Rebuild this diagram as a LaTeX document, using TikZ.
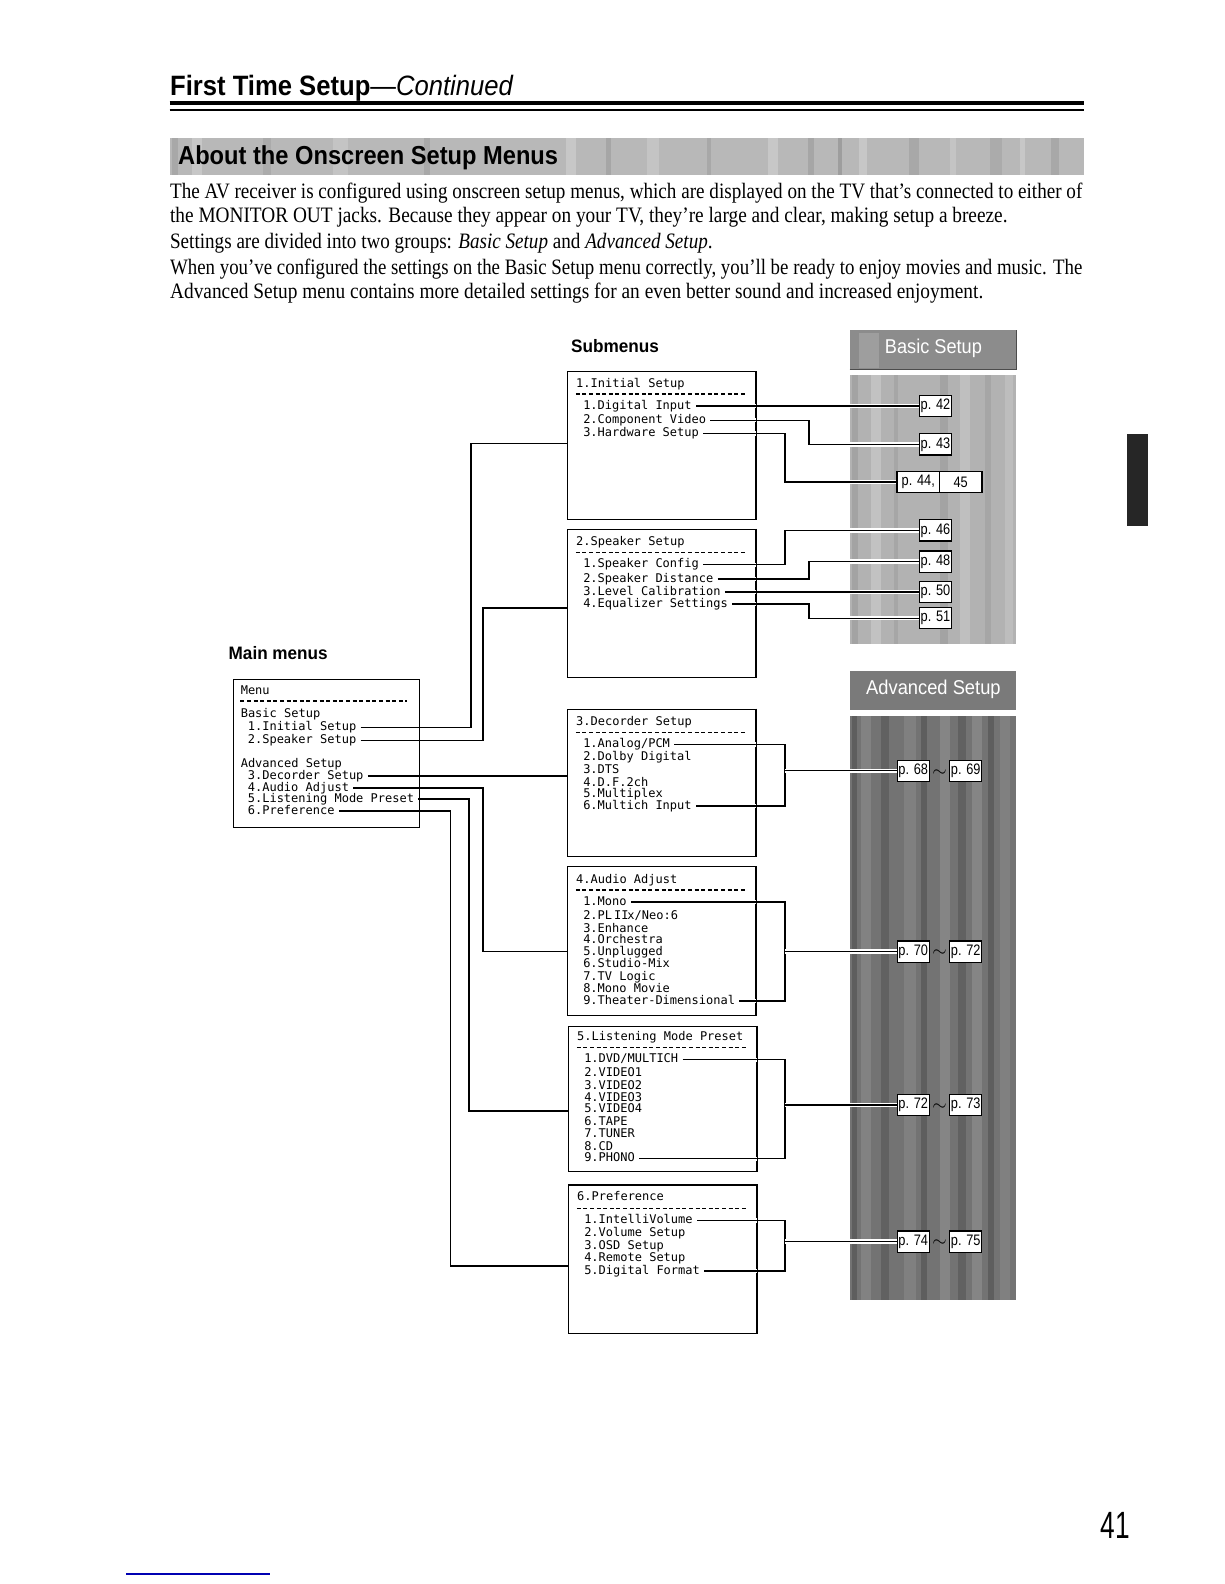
\documentclass[tikz,border=0pt]{standalone}
\usepackage{fontspec}
\setmainfont{Liberation Serif}
\newfontfamily\hsans{Liberation Sans}
\newfontfamily\mono{DejaVu Sans Mono}
\usetikzlibrary{fit,calc}
\newcommand\fitw[2]{\resizebox{#1}{\height}{#2}}
\newcommand\pg[1]{\scalebox{0.84}[1]{#1}}
\begin{document}
\begin{tikzpicture}[x=0.505pt,y=-0.505pt,
  mitem/.style={font=\mono\fontsize{6}{7}\selectfont, anchor=west, inner xsep=2pt, inner ysep=0pt, text height=4.6pt, text depth=1.4pt},
  sbox/.style={draw, line width=0.6pt, inner sep=0pt},
  conn/.style={line width=0.8pt},
  rconn/.style={line width=0.7pt, preaction={draw=white, line width=2.2pt}},
  dline/.style={line width=0.6pt, dash pattern=on 2pt off 1.3pt},
  badge/.style={draw, fill=white, line width=0.6pt, minimum width=16pt, minimum height=10.6pt, inner sep=0pt, font=\hsans\fontsize{7.6}{8}\selectfont},
  tld/.style={font=\bfseries\fontsize{9}{9}\selectfont, inner sep=0pt, text=black},
  bodyline/.style={anchor=west, inner sep=0pt, font=\fontsize{11}{12}\selectfont},
  head/.style={anchor=west, inner sep=0pt, font=\hsans\bfseries\fontsize{9}{10}\selectfont},
  bantext/.style={inner sep=0pt, text=white, font=\hsans\fontsize{10}{11}\selectfont},
]
\useasboundingbox (0,0) rectangle (1212,1568);
\fill[white] (0,0) rectangle (1212,1568);

% ---------- header ----------
\node[anchor=base west, inner sep=0pt, font=\hsans\fontsize{14}{16}\selectfont] (title) at (168,95)
  {\fitw{171.7pt}{\textbf{First Time Setup}\textemdash\textit{Continued}}};
\draw[line width=2pt] (168,102) -- (1073,102);
\draw[line width=0.7pt] (168,109) -- (1073,109);

% banner
\fill[black!28] (168,137) rectangle (1073,173);
\foreach \x/\w/\c in {170/6/black!34,190/10/black!22,260/8/black!33,330/14/black!23,420/6/black!34,560/10/black!22,600/5/black!35,
  640/12/black!23,700/4/black!34,760/10/black!22,800/6/black!35,830/3/black!38,850/8/black!22,900/10/black!34,940/6/black!23,
  980/12/black!33,1010/5/black!22,1040/8/black!34}
  \fill[\c] (\x,137) rectangle (\x+\w,173);
\node[anchor=west, inner sep=0pt, font=\hsans\bfseries\fontsize{13}{15}\selectfont] (about) at (176,156)
  {\fitw{189.9pt}{About the Onscreen Setup Menus}};

% body text
\node[bodyline] (l1) at (168,191) {\fitw{456pt}{The AV receiver is configured using onscreen setup menus, which are displayed on the TV that's connected to either of}};
\node[bodyline] (l2) at (168,215) {\fitw{418.6pt}{the MONITOR OUT jacks. Because they appear on your TV, they're large and clear, making setup a breeze.}};
\node[bodyline] (l3) at (168,241) {\fitw{271.2pt}{Settings are divided into two groups: \textit{Basic Setup} and \textit{Advanced Setup}.}};
\node[bodyline] (l4) at (168,266) {\fitw{456pt}{When you've configured the settings on the Basic Setup menu correctly, you'll be ready to enjoy movies and music. The}};
\node[bodyline] (l5) at (168,290) {\fitw{406.5pt}{Advanced Setup menu contains more detailed settings for an even better sound and increased enjoyment.}};

% labels
\node[head] (subm) at (565,343) {\fitw{43.9pt}{Submenus}};
\node[head] (mainm) at (226,646) {\fitw{49.5pt}{Main menus}};

% ---------- right panels ----------
\fill[black!45] (841,327) rectangle (1006,366);
\fill[black!38] (850,330) rectangle (870,364);
\draw[black!70, line width=0.6pt] (841,366) -- (1006,366) -- (1006,327);
\node[bantext] (basic) at (924,345) {\fitw{48.5pt}{Basic Setup}};
\fill[black!30] (841,371) rectangle (1006,637);
\foreach \x/\w/\c in {843/6/black!36,862/10/black!24,885/4/black!35,930/8/black!36,950/10/black!25,975/6/black!35,995/8/black!26}
  \fill[\c] (\x,371) rectangle (\x+\w,637);
\fill[black!52] (841,664) rectangle (1006,703);
\node[bantext] (adv) at (924,682) {\fitw{67.2pt}{Advanced Setup}};
\fill[black!55] (841,709) rectangle (1006,1287);
\foreach \x/\w/\c in {843/5/black!63,852/10/black!49,872/8/black!62,895/12/black!50,912/6/black!63,930/10/black!48,948/8/black!62,
  962/10/black!48,978/6/black!63,990/10/black!50}
  \fill[\c] (\x,709) rectangle (\x+\w,1287);

% side tab
\fill[black!85] (1116,430) rectangle (1136,521);

% ---------- main menu ----------
\node[sbox, fit={(231,673) (415,819)}] (B0) {};
\node[mitem] (m0) at (234,684) {Menu};
\draw[dline] (238,694) -- (403,694);
\node[mitem] (mb) at (234,707) {Basic Setup};
\node[mitem] (m1) at (241,720) {1.Initial Setup};
\node[mitem] (m2) at (241,733) {2.Speaker Setup};
\node[mitem] (ma) at (234,757) {Advanced Setup};
\node[mitem] (m3) at (241,768) {3.Decorder Setup};
\node[mitem] (m4) at (241,780) {4.Audio Adjust};
\node[mitem] (m5) at (241,791) {5.Listening Mode Preset};
\node[mitem] (m6) at (241,803) {6.Preference};

% ---------- submenu boxes ----------
\node[sbox, fit={(562,368) (748,514)}] (B1) {};
\node[sbox, fit={(562,524) (748,671)}] (B2) {};
\node[sbox, fit={(562,702) (748,848)}] (B3) {};
\node[sbox, fit={(562,858) (748,1005)}] (B4) {};
\node[sbox, fit={(563,1016) (749,1160)}] (B5) {};
\node[sbox, fit={(563,1173) (749,1320)}] (B6) {};

% box 1
\node[mitem] (t1) at (566,380) {1.Initial Setup};
\draw[dline] (570,390) -- (738,390);
\node[mitem] (s11) at (573,402) {1.Digital Input};
\node[mitem] (s12) at (573,416) {2.Component Video};
\node[mitem] (s13) at (573,429) {3.Hardware Setup};
% box 2
\node[mitem] (t2) at (566,537) {2.Speaker Setup};
\draw[dline] (570,547) -- (738,547);
\node[mitem] (s21) at (573,559) {1.Speaker Config};
\node[mitem] (s22) at (573,573) {2.Speaker Distance};
\node[mitem] (s23) at (573,586) {3.Level Calibration};
\node[mitem] (s24) at (573,598) {4.Equalizer Settings};
% box 3
\node[mitem] (t3) at (566,715) {3.Decorder Setup};
\draw[dline] (570,725) -- (738,725);
\node[mitem] (s31) at (573,737) {1.Analog/PCM};
\node[mitem] (s32) at (573,750) {2.Dolby Digital};
\node[mitem] (s33) at (573,763) {3.DTS};
\node[mitem] (s34) at (573,775) {4.D.F.2ch};
\node[mitem] (s35) at (573,786) {5.Multiplex};
\node[mitem] (s36) at (573,798) {6.Multich Input};
% box 4
\node[mitem] (t4) at (566,871) {4.Audio Adjust};
\draw[dline] (570,881) -- (738,881);
\node[mitem] (s41) at (573,893) {1.Mono};
\node[mitem] (s42) at (573,907) {2.PL\,II\kern-0.1emx/Neo:6};
\node[mitem] (s43) at (573,920) {3.Enhance};
\node[mitem] (s44) at (573,931) {4.Orchestra};
\node[mitem] (s45) at (573,943) {5.Unplugged};
\node[mitem] (s46) at (573,955) {6.Studio-Mix};
\node[mitem] (s47) at (573,967) {7.TV Logic};
\node[mitem] (s48) at (573,979) {8.Mono Movie};
\node[mitem] (s49) at (573,991) {9.Theater-Dimensional};
% box 5
\node[mitem] (t5) at (567,1027) {5.Listening Mode Preset};
\draw[dline] (571,1037) -- (739,1037);
\node[mitem] (s51) at (574,1049) {1.DVD/MULTICH};
\node[mitem] (s52) at (574,1062) {2.VIDEO1};
\node[mitem] (s53) at (574,1075) {3.VIDEO2};
\node[mitem] (s54) at (574,1087) {4.VIDEO3};
\node[mitem] (s55) at (574,1098) {5.VIDEO4};
\node[mitem] (s56) at (574,1111) {6.TAPE};
\node[mitem] (s57) at (574,1123) {7.TUNER};
\node[mitem] (s58) at (574,1136) {8.CD};
\node[mitem] (s59) at (574,1147) {9.PHONO};
% box 6
\node[mitem] (t6) at (567,1185) {6.Preference};
\draw[dline] (571,1196) -- (739,1196);
\node[mitem] (s61) at (574,1208) {1.IntelliVolume};
\node[mitem] (s62) at (574,1221) {2.Volume Setup};
\node[mitem] (s63) at (574,1234) {3.OSD Setup};
\node[mitem] (s64) at (574,1246) {4.Remote Setup};
\node[mitem] (s65) at (574,1258) {5.Digital Format};

% ---------- main -> submenu connectors ----------
\draw[conn] (m1.east) -| (466,439) -- (B1.west |- 466,439);
\draw[conn] (m2.east) -| (478,602) -- (B2.west |- 478,602);
\draw[conn] (m3.east) -- (B3.west |- m3.east);
\draw[conn] (m4.east) -| (478,942) -- (B4.west |- 478,942);
\draw[conn] (m5.east) -| (464,1100) -- (B5.west |- 464,1100);
\draw[conn] (m6.east) -| (446,1253) -- (B6.west |- 446,1253);

% ---------- page badges ----------
\node[badge] (b42) at (926,402) {\pg{p. 42}};
\node[badge] (b43) at (926,440) {\pg{p. 43}};
\node[badge, minimum width=21.2pt] (b44) at (909,477) {\pg{p. 44,}};
\node[badge, minimum width=21.2pt] (b45) at (951,477) {\pg{45}};
\node[badge] (b46) at (926,525) {\pg{p. 46}};
\node[badge] (b48) at (926,556) {\pg{p. 48}};
\node[badge] (b50) at (926,586) {\pg{p. 50}};
\node[badge] (b51) at (926,612) {\pg{p. 51}};
\node[badge] (b68) at (904,763) {\pg{p. 68}};
\node[tld] (w3) at (930,765) {$\sim$};
\node[badge] (b69) at (956,763) {\pg{p. 69}};
\node[badge] (b70) at (904,942) {\pg{p. 70}};
\node[tld] (w4) at (930,944) {$\sim$};
\node[badge] (b72) at (956,942) {\pg{p. 72}};
\node[badge] (b72b) at (904,1094) {\pg{p. 72}};
\node[tld] (w5) at (930,1096) {$\sim$};
\node[badge] (b73) at (956,1094) {\pg{p. 73}};
\node[badge] (b74) at (904,1229) {\pg{p. 74}};
\node[tld] (w6) at (930,1231) {$\sim$};
\node[badge] (b75) at (956,1229) {\pg{p. 75}};

% ---------- submenu -> page connectors ----------
\draw[rconn] (s11.east) -- (b42.west |- s11.east);
\draw[rconn] (s12.east) -| (801,440) -- (b43.west);
\draw[rconn] (s13.east) -| (777,477) -- (b44.west);
\draw[rconn] (s21.east) -| (777,525) -- (b46.west);
\draw[rconn] (s22.east) -| (801,556) -- (b48.west);
\draw[rconn] (s23.east) -- (b50.west |- s23.east);
\draw[rconn] (s24.east) -| (801,612) -- (b51.west);
\coordinate (j3) at (777,763);
\coordinate (j4) at (777,942);
\coordinate (j5) at (777,1094);
\coordinate (j6) at (777,1229);
\draw[rconn] (s31.east) -| (j3) |- (s36.east);
\draw[rconn] (j3) -- (b68.west);
\draw[rconn] (s41.east) -| (j4) |- (s49.east);
\draw[rconn] (j4) -- (b70.west);
\draw[rconn] (s51.east) -| (j5) |- (s59.east);
\draw[rconn] (j5) -- (b72b.west);
\draw[rconn] (s61.east) -| (j6) |- (s65.east);
\draw[rconn] (j6) -- (b74.west);
% redraw box edges over halos
\foreach \b in {B1,B2,B3,B4,B5,B6} \draw[line width=0.6pt] (\b.north east) -- (\b.south east);

% ---------- footer ----------
\node[inner sep=0pt, font=\hsans\fontsize{19}{20}\selectfont] (pg) at (1104,1510) {\fitw{14.6pt}{41}};
\draw[blue!70!black, line width=0.6pt] (125,1558) -- (267,1558);
\end{tikzpicture}
\end{document}
